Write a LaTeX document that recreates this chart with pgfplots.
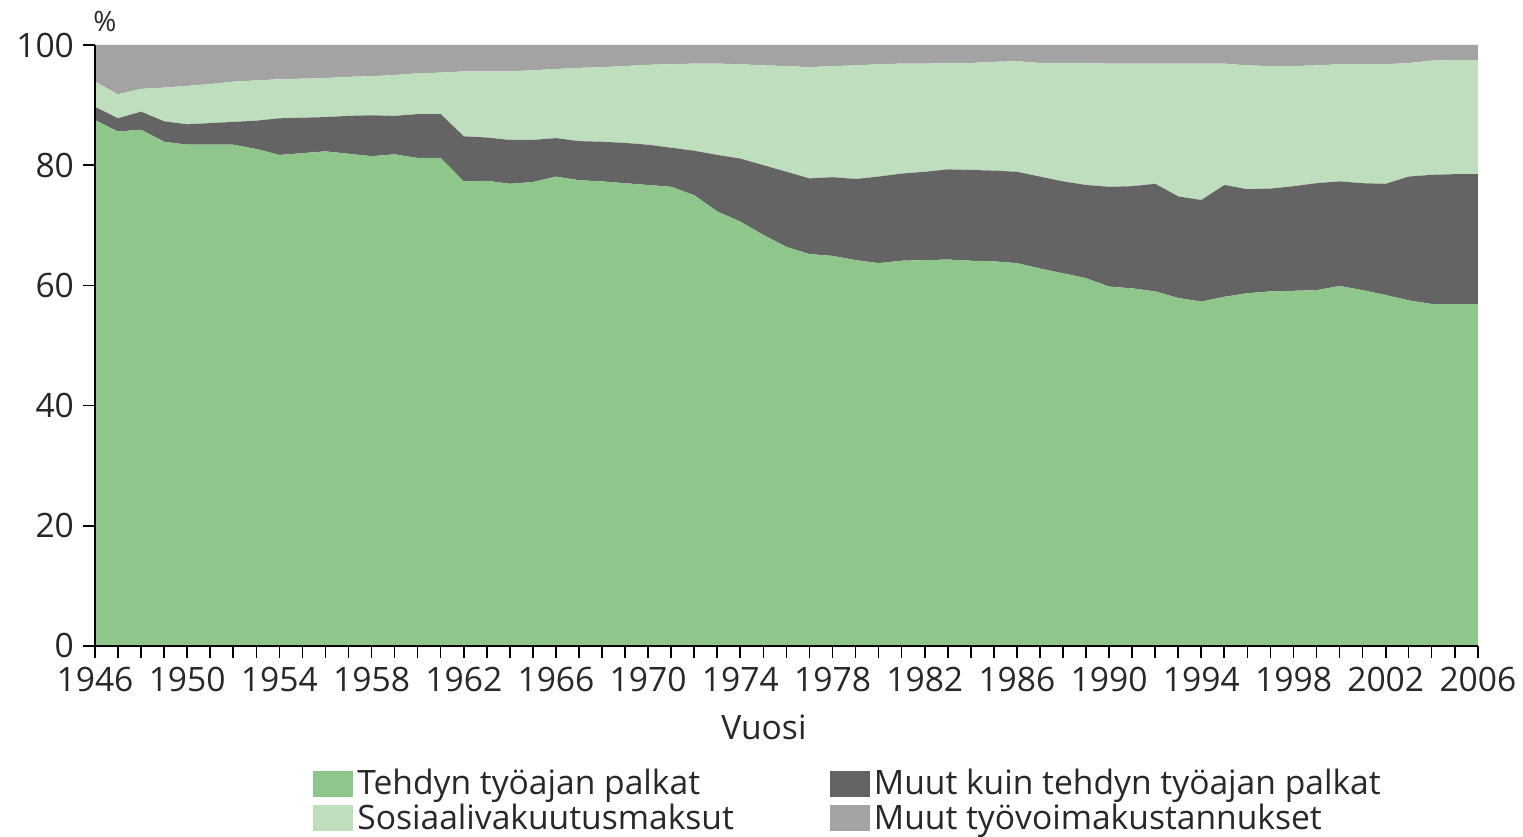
\documentclass[border=0pt]{standalone}
\usepackage{pgfplots}
\pgfplotsset{compat=1.18}
\usepackage{pgfplotstable}
\usepackage{fontspec}
\setmainfont{Open Sans}
\definecolor{cA}{RGB}{143,198,140}
\definecolor{cB}{RGB}{100,100,100}
\definecolor{cC}{RGB}{190,222,190}
\definecolor{cD}{RGB}{163,163,163}
\definecolor{txt}{RGB}{40,40,40}
\pgfplotstableread{
year A B C D
1946 87.5 2.2 4.2 6.1
1947 85.6 2.2 4.0 8.2
1948 85.9 3.0 3.8 7.3
1949 83.9 3.4 5.6 7.1
1950 83.4 3.4 6.4 6.8
1951 83.4 3.6 6.5 6.5
1952 83.4 3.8 6.7 6.1
1953 82.7 4.7 6.7 5.9
1954 81.7 6.1 6.5 5.7
1955 82.0 5.9 6.5 5.6
1956 82.3 5.7 6.5 5.5
1957 81.9 6.3 6.5 5.3
1958 81.5 6.8 6.5 5.2
1959 81.8 6.4 6.8 5.0
1960 81.2 7.3 6.8 4.7
1961 81.2 7.3 6.9 4.6
1962 77.3 7.5 10.8 4.4
1963 77.4 7.2 11.0 4.4
1964 76.9 7.3 11.4 4.4
1965 77.2 7.0 11.6 4.2
1966 78.1 6.4 11.5 4.0
1967 77.5 6.5 12.2 3.8
1968 77.3 6.6 12.4 3.7
1969 77.0 6.7 12.8 3.5
1970 76.7 6.7 13.3 3.3
1971 76.4 6.5 13.9 3.2
1972 75.0 7.4 14.5 3.1
1973 72.3 9.4 15.2 3.1
1974 70.6 10.5 15.7 3.2
1975 68.4 11.6 16.6 3.4
1976 66.4 12.5 17.6 3.5
1977 65.2 12.6 18.5 3.7
1978 64.9 13.1 18.5 3.5
1979 64.2 13.5 18.9 3.4
1980 63.7 14.4 18.7 3.2
1981 64.1 14.5 18.3 3.1
1982 64.2 14.7 18.0 3.1
1983 64.3 15.0 17.7 3.0
1984 64.1 15.1 17.8 3.0
1985 64.0 15.1 18.1 2.8
1986 63.7 15.2 18.4 2.7
1987 62.8 15.3 18.9 3.0
1988 62.0 15.3 19.7 3.0
1989 61.2 15.5 20.3 3.0
1990 59.8 16.6 20.5 3.1
1991 59.5 17.0 20.4 3.1
1992 59.0 17.9 20.0 3.1
1993 57.9 16.9 22.1 3.1
1994 57.3 16.9 22.7 3.1
1995 58.1 18.6 20.2 3.1
1996 58.7 17.3 20.6 3.4
1997 59.0 17.1 20.4 3.5
1998 59.1 17.4 20.0 3.5
1999 59.2 17.8 19.6 3.4
2000 59.9 17.4 19.5 3.2
2001 59.2 17.8 19.8 3.2
2002 58.4 18.5 19.9 3.2
2003 57.5 20.6 18.9 3.0
2004 56.9 21.5 19.0 2.6
2005 56.9 21.6 19.0 2.5
2006 56.9 21.6 19.0 2.5
}\data
\begin{document}
\begin{tikzpicture}
\begin{axis}[
  scale only axis,
  width=691.5pt, height=300.5pt,
  xmin=1946, xmax=2006, ymin=0, ymax=100,
  stack plots=y,
  axis on top,
  axis x line*=bottom, axis y line*=left,
  axis line style={-, black, line width=0.8pt},
  xtick={1946,1950,...,2006},
  minor xtick={1946,...,2006},
  ytick={0,20,...,100},
  tick align=outside,
  major tick length=6pt, minor tick length=6pt,
  tick style={black, line width=0.8pt},
  /pgf/number format/1000 sep={},
  /pgf/number format/assume math mode=true,
  tick label style={font=\fontsize{16.8}{19}\selectfont, text=txt},
  xticklabel style={yshift=-1pt},
  yticklabel style={xshift=-1pt},
  xlabel={Vuosi},
  xlabel style={font=\fontsize{16.8}{19}\selectfont, text=txt, at={(rel axis cs:0.4837,-0.135)}, anchor=center},
  legend columns=2,
  legend style={draw=none, fill=none, at={(rel axis cs:0.1576,-0.198)}, anchor=north west,
    font=\fontsize{16.8}{19}\selectfont, text=txt, inner sep=0pt,
    row sep=-1pt,
    /tikz/every even column/.append style={column sep=46pt}},
  legend cell align=left,
  legend image code/.code={\fill[#1] (0pt,-6.5pt) rectangle (20pt,6.5pt);},
]
\addplot[draw=none, fill=cA] table[x=year, y=A] {\data} \closedcycle;
\addlegendentry{Tehdyn työajan palkat}
\addplot[draw=none, fill=cB] table[x=year, y=B] {\data} \closedcycle;
\addlegendentry{Muut kuin tehdyn työajan palkat}
\addplot[draw=none, fill=cC] table[x=year, y=C] {\data} \closedcycle;
\addlegendentry{Sosiaalivakuutusmaksut}
\addplot[draw=none, fill=cD] table[x=year, y=D] {\data} \closedcycle;
\addlegendentry{Muut työvoimakustannukset}
\end{axis}
\node[font=\fontsize{14}{16}\selectfont, text=txt] at ([xshift=5pt, yshift=11.5pt]current axis.north west) {\%};
\path ([xshift=-47.5pt, yshift=-94pt]current axis.south west) coordinate (bl);
\path (bl) rectangle ++(761.5pt,417pt);
\end{tikzpicture}
\end{document}
